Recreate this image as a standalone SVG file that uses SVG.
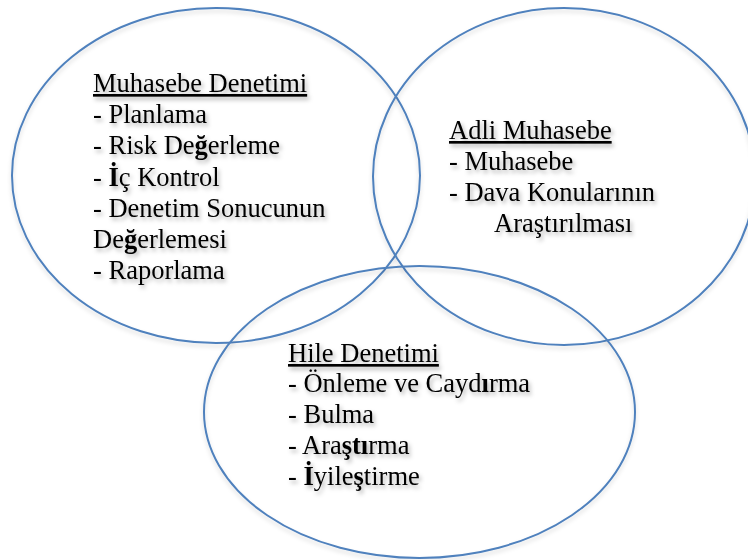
<svg xmlns="http://www.w3.org/2000/svg" width="748" height="560" viewBox="0 0 748 560">
<defs>
<filter id="sh" x="-10%" y="-20%" width="120%" height="150%">
<feDropShadow dx="2" dy="3" stdDeviation="2" flood-color="#000" flood-opacity="0.3"/>
</filter>
<filter id="esh" x="-10%" y="-10%" width="120%" height="120%">
<feDropShadow dx="0" dy="3" stdDeviation="2" flood-color="#000" flood-opacity="0.15"/>
</filter>
</defs>
<style>
.c{fill:none;stroke:#4F81BD;stroke-width:2;filter:url(#esh)}
.t{font-family:"Liberation Serif","Times New Roman",serif;font-size:26.5px;fill:#000;filter:url(#sh)}
.u{text-decoration:underline}
.b{font-weight:bold}
</style>
<rect width="748" height="560" fill="#fff"/>
<g id="muhasebe-denetimi">
<ellipse class="c" cx="216" cy="175.5" rx="204" ry="167.5"/>
<text class="t" x="93" y="92"><tspan class="u">Muhasebe Denetimi</tspan></text>
<text class="t" x="93" y="123">- Planlama</text>
<text class="t" x="93" y="154">- Risk De<tspan class="b">ğ</tspan>erleme</text>
<text class="t" x="93" y="186">- <tspan class="b">İ</tspan>ç Kontrol</text>
<text class="t" x="93" y="217">- Denetim Sonucunun</text>
<text class="t" x="93" y="248">De<tspan class="b">ğ</tspan>erlemesi</text>
<text class="t" x="93" y="279">- Raporlama</text>
</g>
<g id="adli-muhasebe">
<ellipse class="c" cx="564" cy="176.5" rx="191" ry="168.5"/>
<text class="t" x="449" y="139"><tspan class="u">Adli Muhasebe</tspan></text>
<text class="t" x="449" y="170">- Muhasebe</text>
<text class="t" x="449" y="201">- Dava Konularının</text>
<text class="t" x="494" y="232">Araştırılması</text>
</g>
<g id="hile-denetimi">
<ellipse class="c" cx="419.5" cy="412" rx="215.5" ry="146"/>
<text class="t" x="288" y="362"><tspan class="u">Hile Denetimi</tspan></text>
<text class="t" x="288" y="392">- Önleme ve Cayd<tspan class="b">ı</tspan>rma</text>
<text class="t" x="288" y="423">- Bulma</text>
<text class="t" x="288" y="454">- Ara<tspan class="b">ştı</tspan>rma</text>
<text class="t" x="288" y="485">- <tspan class="b">İ</tspan>yile<tspan class="b">ş</tspan>tirme</text>
</g>
</svg>
